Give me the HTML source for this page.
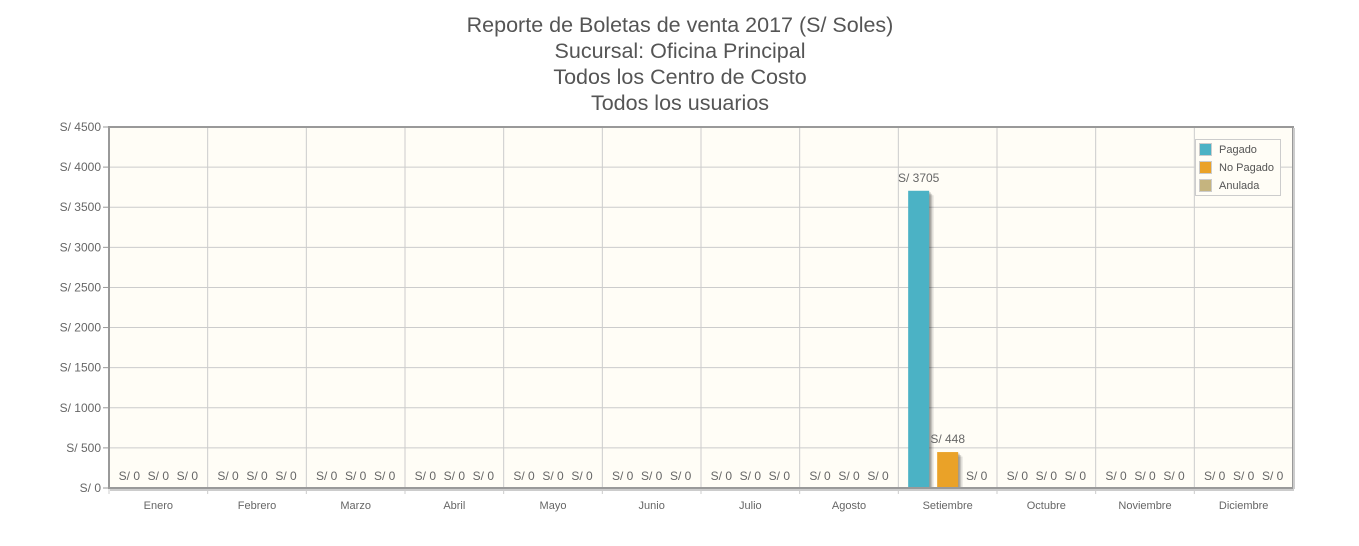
<!DOCTYPE html>
<html><head><meta charset="utf-8"><style>
html,body{margin:0;padding:0;background:#fff;width:1359px;height:546px;overflow:hidden}
svg text{font-family:"Liberation Sans",sans-serif}
</style></head><body>
<svg id="c" width="1359" height="546" xmlns="http://www.w3.org/2000/svg">
<g fill="#555" font-size="21.5" text-anchor="middle">
<text x="680" y="32">Reporte de Boletas de venta 2017 (S/ Soles)</text>
<text x="680" y="58">Sucursal: Oficina Principal</text>
<text x="680" y="84">Todos los Centro de Costo</text>
<text x="680" y="110">Todos los usuarios</text>
</g>
<rect x="109" y="127" width="1184" height="361" fill="#fffdf6"/>
<g id="grid"></g>
<g id="bars"></g>
<g id="lab" fill="#666" font-size="12"></g>
<rect x="109" y="127" width="1184" height="361" fill="none" stroke="#999" stroke-width="2"/>
<line x1="110" y1="490" x2="1294" y2="490" stroke="#ccc" stroke-width="2"/>
<line x1="1294" y1="128" x2="1294" y2="489" stroke="#ccc" stroke-width="2"/>
<g font-size="11" fill="#555">
<rect x="1195.5" y="139.5" width="85" height="56" fill="#fffdf6" stroke="#ccc"/>
<rect x="1199.5" y="143.5" width="12" height="12" fill="#4bb2c5" stroke="#ccc"/>
<text x="1219" y="153">Pagado</text>
<rect x="1199.5" y="161.5" width="12" height="12" fill="#eaa228" stroke="#ccc"/>
<text x="1219" y="171">No Pagado</text>
<rect x="1199.5" y="179.5" width="12" height="12" fill="#c5b47f" stroke="#ccc"/>
<text x="1219" y="189">Anulada</text>
</g>
</svg>
<script>
var ns="http://www.w3.org/2000/svg";
function el(p,t,a,txt){var e=document.createElementNS(ns,t);for(var k in a)e.setAttribute(k,a[k]);if(txt!=null)e.textContent=txt;document.getElementById(p).appendChild(e);return e;}
var L=109,R=1293,T=127,B=488,W=(R-L)/12;
var months=["Enero","Febrero","Marzo","Abril","Mayo","Junio","Julio","Agosto","Setiembre","Octubre","Noviembre","Diciembre"];
for(var i=0;i<=9;i++){var y=B-i*(B-T)/9;
 if(i>0&&i<9)el("grid","line",{x1:L,x2:R,y1:y,y2:y,stroke:"#ccc","stroke-width":1});
 el("grid","line",{x1:L-6,x2:L,y1:y,y2:y,stroke:"#999","stroke-width":1});
 el("lab","text",{x:L-8,y:y+4,"text-anchor":"end"},"S/ "+(i*500));}
for(var m=0;m<12;m++){var x=L+m*W;
 if(m>0)el("grid","line",{x1:x,x2:x,y1:T,y2:B,stroke:"#ccc","stroke-width":1});
 el("grid","line",{x1:x,x2:x,y1:B,y2:B+6,stroke:"#ccc","stroke-width":1});
 var cx=x+W/2;
 el("lab","text",{x:cx,y:509,"text-anchor":"middle","font-size":"11"},months[m]);
 var vals=m==8?[3705,448,0]:[0,0,0];var cols=["#4bb2c5","#eaa228","#c5b47f"];
 for(var s=0;s<3;s++){var bx=cx+(s-1)*29;var v=vals[s];
  if(v>0){var h=v*(B-T)/4500;
   el("bars","rect",{x:bx-10.5+4.5,y:B-h+4.5,width:21,height:h-4.5,fill:"rgba(0,0,0,0.1)"});
   el("bars","rect",{x:bx-10.5+3,y:B-h+3,width:21,height:h-3,fill:"rgba(0,0,0,0.15)"});
   el("bars","rect",{x:bx-10.5+1.5,y:B-h+1.5,width:21,height:h-1.5,fill:"rgba(0,0,0,0.2)"});
   el("bars","rect",{x:bx-10.5,y:B-h,width:21,height:h,fill:cols[s]});
   el("lab","text",{x:bx,y:B-h-9,"text-anchor":"middle"},"S/ "+v);}
  else el("lab","text",{x:bx,y:480,"text-anchor":"middle"},"S/ 0");}
}
</script>
</body></html>
